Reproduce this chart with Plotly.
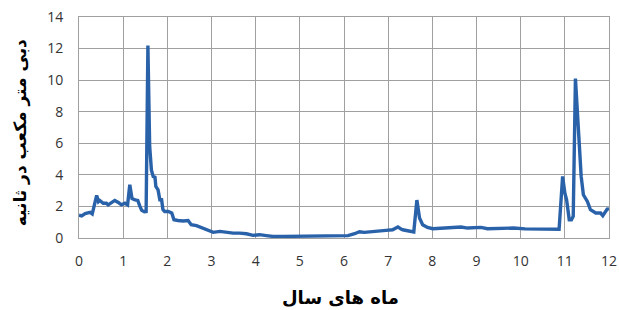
import plotly.graph_objects as go

# Time in months (x) and discharge in m3/s (y)
months = [0.00, 0.06, 0.14, 0.25, 0.30, 0.40, 0.44, 0.47, 0.55, 0.62, 0.66, 0.75, 0.81, 0.89, 0.96,
          1.04, 1.10, 1.15, 1.20, 1.27, 1.33, 1.38, 1.42, 1.48, 1.52, 1.56, 1.60, 1.64, 1.68, 1.72,
          1.74, 1.79, 1.83, 1.87, 1.90, 1.94, 2.02, 2.10, 2.15, 2.24, 2.36, 2.47, 2.54, 2.66, 2.73,
          2.85, 2.96, 3.04, 3.19, 3.34, 3.49, 3.64, 3.79, 3.94, 4.09, 4.24, 4.39, 4.62, 4.84, 4.96,
          5.07, 5.30, 5.60, 5.97, 6.09, 6.24, 6.35, 6.46, 6.58, 6.80, 6.95, 7.10, 7.22, 7.29, 7.33,
          7.44, 7.58, 7.65, 7.71, 7.78, 7.89, 8.01, 8.19, 8.34, 8.65, 8.80, 9.10, 9.25, 9.55, 9.84,
          10.10, 10.40, 10.70, 10.87, 10.95, 11.00, 11.04, 11.10, 11.15, 11.19, 11.24, 11.32, 11.37,
          11.42, 11.51, 11.58, 11.70, 11.81, 11.86, 11.96, 12.00]
discharge = [1.45, 1.40, 1.55, 1.62, 1.52, 2.70, 2.30, 2.38, 2.20, 2.20, 2.10, 2.30, 2.38, 2.25, 2.10,
             2.20, 2.10, 3.37, 2.50, 2.42, 2.38, 2.00, 1.75, 1.66, 1.68, 12.20, 5.80, 4.30, 3.90, 3.85,
             3.27, 3.05, 2.42, 2.42, 1.80, 1.68, 1.68, 1.58, 1.16, 1.11, 1.08, 1.11, 0.84, 0.78, 0.70,
             0.57, 0.42, 0.36, 0.42, 0.36, 0.31, 0.31, 0.27, 0.17, 0.21, 0.15, 0.10, 0.10, 0.10, 0.15,
             0.10, 0.15, 0.10, 0.10, 0.15, 0.27, 0.40, 0.36, 0.40, 0.48, 0.48, 0.52, 0.70, 0.57, 0.52,
             0.46, 0.38, 2.40, 1.27, 0.84, 0.67, 0.59, 0.63, 0.67, 0.70, 0.63, 0.67, 0.59, 0.63, 0.63,
             0.58, 0.55, 0.55, 0.55, 3.90, 2.85, 2.42, 1.16, 1.16, 1.37, 10.10, 6.20, 3.90,
             2.74, 2.32, 1.79, 1.58, 1.58, 1.41, 1.83, 1.85]

x_ticks = list(range(0, 13))
y_ticks = list(range(0, 15, 2))

x_title = "ماه های سال"
y_title = "دبی متر مکعب در ثانیه"

fig = go.Figure()
fig.add_trace(go.Scatter(x=months, y=discharge, mode="lines",
                         line=dict(color="#2A62AA", width=3.4), showlegend=False))

grid = "#A0A0A0"
fig.update_layout(
    width=619, height=310,
    margin=dict(l=79, r=10, t=17, b=72),
    paper_bgcolor="white", plot_bgcolor="white",
    font=dict(family="Open Sans", size=14, color="#333333"),
    xaxis=dict(range=[0, 12], tickvals=x_ticks, showgrid=True, gridcolor=grid, gridwidth=1,
               showline=True, linecolor=grid, linewidth=1, mirror=True, zeroline=False,
               ticks="", ticklabelstandoff=10, automargin=False, ticklabeloverflow="allow"),
    yaxis=dict(range=[0, 14], tickvals=y_ticks, showgrid=True, gridcolor=grid, gridwidth=1,
               showline=True, linecolor=grid, linewidth=1, mirror=True, zeroline=False,
               ticks="", ticklabelstandoff=12, automargin=False, ticklabeloverflow="allow"),
    annotations=[
        dict(text="<b>%s</b>" % x_title, xref="paper", yref="paper", x=0.4925, y=-0.271,
             xanchor="center", yanchor="middle", showarrow=False,
             font=dict(family="DejaVu Sans", size=18, color="black")),
        dict(text="<b>%s</b>" % y_title, xref="paper", yref="paper", x=-0.111, y=0.475,
             xanchor="center", yanchor="middle", showarrow=False, textangle=-90,
             font=dict(family="DejaVu Sans", size=17, color="black")),
    ],
)

fig.write_html(
    "out.html",
    config={"displayModeBar": False},
    post_script="document.body.style.margin='0';document.body.style.overflow='hidden';",
)
